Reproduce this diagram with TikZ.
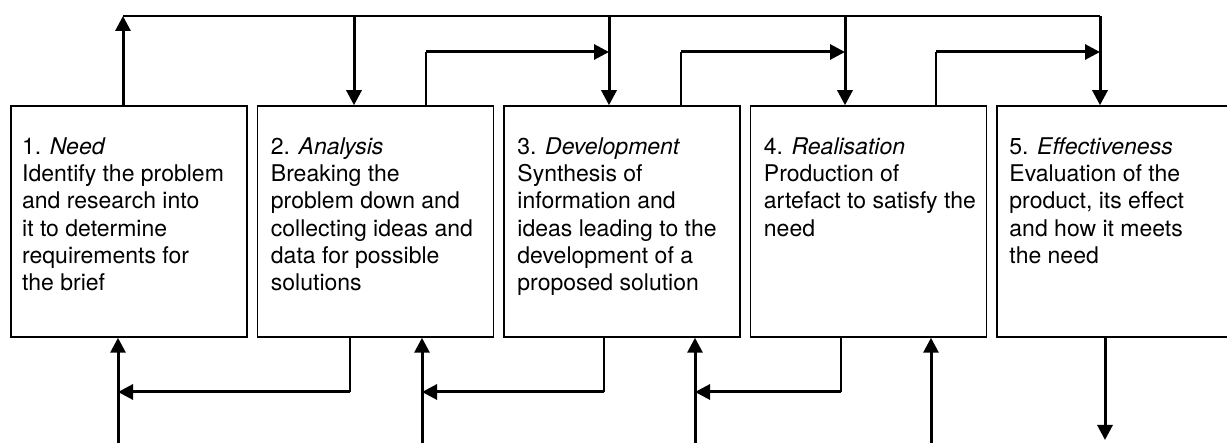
\documentclass[tikz,border=0pt]{standalone}
\usepackage{fontspec}
\setmainfont{TeX Gyre Heros}
\usetikzlibrary{arrows.meta}
\tikzset{
  box/.style={draw, line width=1.5pt, minimum width=236pt, minimum height=231pt, inner sep=0pt},
  txt/.style={anchor=base west, inner sep=0pt, font=\fontsize{23}{27.3}\selectfont},
  thinln/.style={line width=1.5pt},
  thkln/.style={line width=3pt},
  tip/.style={-{Triangle[width=15pt,length=15pt]}}
}
\newcommand{\boxtext}[1]{\parbox[t]{228pt}{\raggedright #1}}
\begin{document}
\begin{tikzpicture}[x=1pt,y=-1pt]
\useasboundingbox (0,0) rectangle (1227,443);
\clip (0,0) rectangle (1227,443);
% boxes
\node[box] (b1) at (129,221.5) {};
\node[box] (b2) at (375.5,221.5) {};
\node[box] (b3) at (622,221.5) {};
\node[box] (b4) at (868.5,221.5) {};
\node[box] (b5) at (1115,221.5) {};
% texts
\node[txt] (l1) at ([xshift=11.7pt,yshift=-49pt]b1.north west) {\boxtext{1. \textit{Need}\\Identify the problem\\and research into\\it to determine\\requirements for\\the brief}};
\node[txt] (l2) at ([xshift=14pt,yshift=-49pt]b2.north west) {\boxtext{2. \textit{Analysis}\\Breaking the\\problem down and\\collecting ideas and\\data for possible\\solutions}};
\node[txt] (l3) at ([xshift=14pt,yshift=-49pt]b3.north west) {\boxtext{3. \textit{Development}\\Synthesis of\\information and\\ideas leading to the\\development of a\\proposed solution}};
\node[txt] (l4) at ([xshift=14pt,yshift=-49pt]b4.north west) {\boxtext{4. \textit{Realisation}\\Production of\\artefact to satisfy the\\need}};
\node[txt] (l5) at ([xshift=13pt,yshift=-49pt]b5.north west) {\boxtext{5. \textit{Effectiveness}\\Evaluation of the\\product, its effect\\and how it meets\\the need}};
% coordinates
\coordinate (c1) at (123,16);
\coordinate (d2) at (354,16);
\coordinate (d3) at (609,16);
\coordinate (d4) at (845,16);
\coordinate (d5) at (1100,16);
\coordinate (e2) at (426,52);
\coordinate (e3) at (681,52);
\coordinate (e4) at (936,52);
\coordinate (u1) at (118,443);
\coordinate (u2) at (422,443);
\coordinate (u3) at (695,443);
\coordinate (u4) at (931,443);
\coordinate (f2) at (350,392);
\coordinate (f3) at (604,392);
\coordinate (f4) at (841,392);
\coordinate (g5) at (1105,440);
% top feedback line
\draw[thinln] (c1) -- (d5);
\draw[thkln,tip] (b1.north -| c1) -- (c1);
\draw[thkln,tip] (d2) -- (b2.north -| d2);
\draw[thkln,tip] (d3) -- (b3.north -| d3);
\draw[thkln,tip] (d4) -- (b4.north -| d4);
\draw[thkln,tip] (d5) -- (b5.north -| d5);
% forward links on top
\draw[thinln] (b2.north -| e2) -- (e2);
\draw[thkln,tip] (e2) -- (e2 -| d3);
\draw[thinln] (b3.north -| e3) -- (e3);
\draw[thkln,tip] (e3) -- (e3 -| d4);
\draw[thinln] (b4.north -| e4) -- (e4);
\draw[thkln,tip] (e4) -- (e4 -| d5);
% inputs from below
\draw[thkln,tip] (u1) -- (b1.south -| u1);
\draw[thkln,tip] (u2) -- (b2.south -| u2);
\draw[thkln,tip] (u3) -- (b3.south -| u3);
\draw[thkln,tip] (u4) -- (b4.south -| u4);
% backward links below
\draw[thinln] (b2.south -| f2) -- (f2);
\draw[thkln,tip] (f2) -- (f2 -| u1);
\draw[thinln] (b3.south -| f3) -- (f3);
\draw[thkln,tip] (f3) -- (f3 -| u2);
\draw[thinln] (b4.south -| f4) -- (f4);
\draw[thkln,tip] (f4) -- (f4 -| u3);
% output
\draw[thkln,tip] (b5.south -| g5) -- (g5);
\end{tikzpicture}
\end{document}
